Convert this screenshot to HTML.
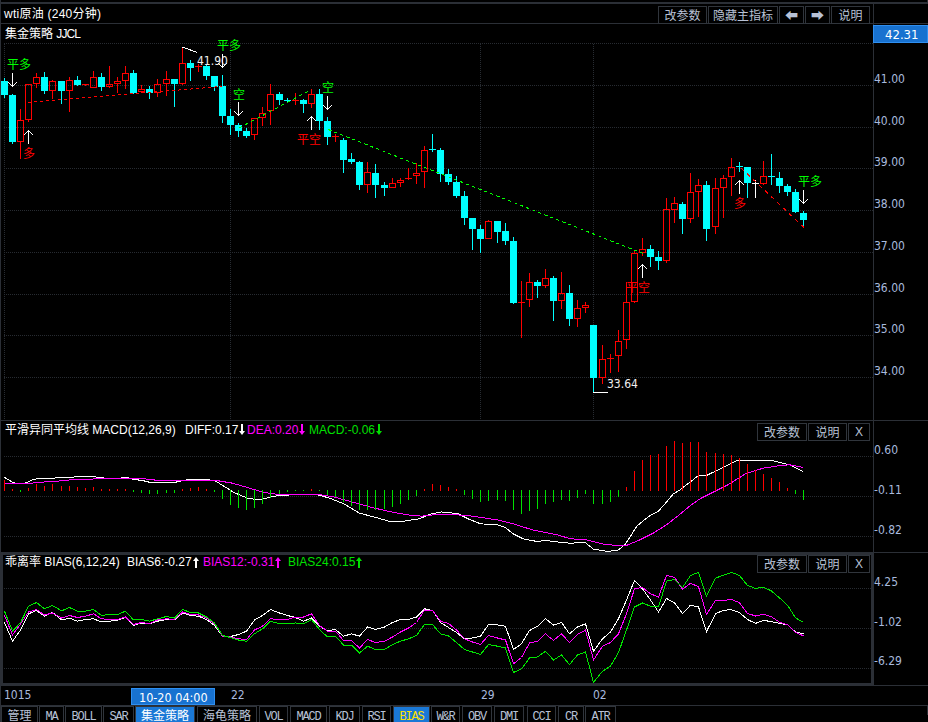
<!DOCTYPE html>
<html><head><meta charset="utf-8"><style>
html,body{margin:0;padding:0;background:#000;}
#w{position:relative;width:928px;height:722px;overflow:hidden;background:#000;}
svg{position:absolute;left:0;top:0;}
.t{position:absolute;white-space:pre;line-height:16px;}
.b{position:absolute;border:1px solid #30353c;color:#b8c2d6;text-align:center;white-space:pre;background:#000;}
.arr{font-size:13px;}
.ar{position:relative;display:inline-block;vertical-align:top;margin-top:2px;margin-left:1px;}
.tm{letter-spacing:-1.2px;padding-top:2px;box-sizing:border-box;}
.tab{position:absolute;top:706px;height:16px;border:1px solid #30353c;border-bottom:none;color:#b8c2d6;font-size:12px;line-height:16px;text-align:center;box-sizing:content-box;}
</style></head><body><div id="w">
<svg width="928" height="722" viewBox="0 0 928 722" shape-rendering="crispEdges">
<line x1="4" y1="43.5" x2="873" y2="43.5" stroke="#272b31" stroke-width="1" stroke-dasharray="1 1"/>
<line x1="4" y1="85.5" x2="873" y2="85.5" stroke="#272b31" stroke-width="1" stroke-dasharray="1 1"/>
<line x1="4" y1="127.5" x2="873" y2="127.5" stroke="#272b31" stroke-width="1" stroke-dasharray="1 1"/>
<line x1="4" y1="168.5" x2="873" y2="168.5" stroke="#272b31" stroke-width="1" stroke-dasharray="1 1"/>
<line x1="4" y1="210.5" x2="873" y2="210.5" stroke="#272b31" stroke-width="1" stroke-dasharray="1 1"/>
<line x1="4" y1="252.5" x2="873" y2="252.5" stroke="#272b31" stroke-width="1" stroke-dasharray="1 1"/>
<line x1="4" y1="294.5" x2="873" y2="294.5" stroke="#272b31" stroke-width="1" stroke-dasharray="1 1"/>
<line x1="4" y1="335.5" x2="873" y2="335.5" stroke="#272b31" stroke-width="1" stroke-dasharray="1 1"/>
<line x1="4" y1="377.5" x2="873" y2="377.5" stroke="#272b31" stroke-width="1" stroke-dasharray="1 1"/>
<line x1="4.5" y1="44" x2="4.5" y2="420" stroke="#272b31" stroke-width="1" stroke-dasharray="1 1"/>
<line x1="230.5" y1="44" x2="230.5" y2="420" stroke="#272b31" stroke-width="1" stroke-dasharray="1 1"/>
<line x1="480.5" y1="44" x2="480.5" y2="420" stroke="#272b31" stroke-width="1" stroke-dasharray="1 1"/>
<line x1="593.5" y1="44" x2="593.5" y2="420" stroke="#272b31" stroke-width="1" stroke-dasharray="1 1"/>
<line x1="4" y1="456.5" x2="873" y2="456.5" stroke="#272b31" stroke-width="1" stroke-dasharray="1 1"/>
<line x1="4" y1="496.5" x2="873" y2="496.5" stroke="#272b31" stroke-width="1" stroke-dasharray="1 1"/>
<line x1="4" y1="536.5" x2="873" y2="536.5" stroke="#272b31" stroke-width="1" stroke-dasharray="1 1"/>
<line x1="4" y1="588.5" x2="871" y2="588.5" stroke="#272b31" stroke-width="1" stroke-dasharray="1 1"/>
<line x1="4" y1="628.5" x2="871" y2="628.5" stroke="#272b31" stroke-width="1" stroke-dasharray="1 1"/>
<line x1="4" y1="668.5" x2="871" y2="668.5" stroke="#272b31" stroke-width="1" stroke-dasharray="1 1"/>
<line x1="4.5" y1="78" x2="4.5" y2="98" stroke="#00ffff" stroke-width="1" />
<rect x="1" y="81" width="7" height="14" fill="#00ffff" />
<line x1="12.5" y1="94" x2="12.5" y2="144" stroke="#00ffff" stroke-width="1" />
<rect x="9" y="95" width="7" height="47" fill="#00ffff" />
<line x1="20.5" y1="109" x2="20.5" y2="120" stroke="#ff0000" stroke-width="1" />
<line x1="20.5" y1="142" x2="20.5" y2="159" stroke="#ff0000" stroke-width="1" />
<rect x="17.5" y="120.5" width="6" height="21" fill="none" stroke="#ff0000" stroke-width="1"/>
<line x1="28.5" y1="120" x2="28.5" y2="122" stroke="#ff0000" stroke-width="1" />
<rect x="25.5" y="84.5" width="6" height="35" fill="none" stroke="#ff0000" stroke-width="1"/>
<line x1="36.5" y1="73" x2="36.5" y2="77" stroke="#ff0000" stroke-width="1" />
<line x1="36.5" y1="84" x2="36.5" y2="88" stroke="#ff0000" stroke-width="1" />
<rect x="33.5" y="77.5" width="6" height="6" fill="none" stroke="#ff0000" stroke-width="1"/>
<line x1="44.5" y1="72" x2="44.5" y2="94" stroke="#00ffff" stroke-width="1" />
<rect x="41" y="77" width="7" height="14" fill="#00ffff" />
<line x1="52.5" y1="80" x2="52.5" y2="81" stroke="#ff0000" stroke-width="1" />
<line x1="52.5" y1="91" x2="52.5" y2="99" stroke="#ff0000" stroke-width="1" />
<rect x="49.5" y="81.5" width="6" height="9" fill="none" stroke="#ff0000" stroke-width="1"/>
<line x1="61.5" y1="81" x2="61.5" y2="104" stroke="#00ffff" stroke-width="1" />
<rect x="58" y="81" width="7" height="10" fill="#00ffff" />
<line x1="69.5" y1="77" x2="69.5" y2="80" stroke="#ff0000" stroke-width="1" />
<line x1="69.5" y1="91" x2="69.5" y2="112" stroke="#ff0000" stroke-width="1" />
<rect x="66.5" y="80.5" width="6" height="10" fill="none" stroke="#ff0000" stroke-width="1"/>
<line x1="77.5" y1="76" x2="77.5" y2="86" stroke="#00ffff" stroke-width="1" />
<rect x="74" y="80" width="7" height="5" fill="#00ffff" />
<line x1="85.5" y1="84" x2="85.5" y2="86" stroke="#ff0000" stroke-width="1" />
<rect x="82" y="84" width="7" height="1" fill="#ff0000" />
<line x1="93.5" y1="71" x2="93.5" y2="77" stroke="#ff0000" stroke-width="1" />
<rect x="90.5" y="77.5" width="6" height="10" fill="none" stroke="#ff0000" stroke-width="1"/>
<line x1="101.5" y1="73" x2="101.5" y2="91" stroke="#00ffff" stroke-width="1" />
<rect x="98" y="77" width="7" height="10" fill="#00ffff" />
<line x1="109.5" y1="66" x2="109.5" y2="84" stroke="#ff0000" stroke-width="1" />
<line x1="109.5" y1="87" x2="109.5" y2="88" stroke="#ff0000" stroke-width="1" />
<rect x="106.5" y="84.5" width="6" height="2" fill="none" stroke="#ff0000" stroke-width="1"/>
<line x1="117.5" y1="77" x2="117.5" y2="81" stroke="#ff0000" stroke-width="1" />
<line x1="117.5" y1="84" x2="117.5" y2="93" stroke="#ff0000" stroke-width="1" />
<rect x="114.5" y="81.5" width="6" height="2" fill="none" stroke="#ff0000" stroke-width="1"/>
<line x1="125.5" y1="66" x2="125.5" y2="73" stroke="#ff0000" stroke-width="1" />
<line x1="125.5" y1="81" x2="125.5" y2="89" stroke="#ff0000" stroke-width="1" />
<rect x="122.5" y="73.5" width="6" height="7" fill="none" stroke="#ff0000" stroke-width="1"/>
<line x1="133.5" y1="70" x2="133.5" y2="94" stroke="#00ffff" stroke-width="1" />
<rect x="130" y="73" width="7" height="20" fill="#00ffff" />
<line x1="141.5" y1="85" x2="141.5" y2="89" stroke="#ff0000" stroke-width="1" />
<line x1="141.5" y1="92" x2="141.5" y2="93" stroke="#ff0000" stroke-width="1" />
<rect x="138.5" y="89.5" width="6" height="2" fill="none" stroke="#ff0000" stroke-width="1"/>
<line x1="149.5" y1="86" x2="149.5" y2="99" stroke="#00ffff" stroke-width="1" />
<rect x="146" y="89" width="7" height="4" fill="#00ffff" />
<line x1="157.5" y1="79" x2="157.5" y2="84" stroke="#ff0000" stroke-width="1" />
<line x1="157.5" y1="93" x2="157.5" y2="97" stroke="#ff0000" stroke-width="1" />
<rect x="154.5" y="84.5" width="6" height="8" fill="none" stroke="#ff0000" stroke-width="1"/>
<line x1="166.5" y1="71" x2="166.5" y2="79" stroke="#ff0000" stroke-width="1" />
<line x1="166.5" y1="84" x2="166.5" y2="96" stroke="#ff0000" stroke-width="1" />
<rect x="163.5" y="79.5" width="6" height="4" fill="none" stroke="#ff0000" stroke-width="1"/>
<line x1="174.5" y1="79" x2="174.5" y2="107" stroke="#00ffff" stroke-width="1" />
<rect x="171" y="79" width="7" height="5" fill="#00ffff" />
<line x1="182.5" y1="47" x2="182.5" y2="63" stroke="#ff0000" stroke-width="1" />
<line x1="182.5" y1="84" x2="182.5" y2="85" stroke="#ff0000" stroke-width="1" />
<rect x="179.5" y="63.5" width="6" height="20" fill="none" stroke="#ff0000" stroke-width="1"/>
<line x1="190.5" y1="60" x2="190.5" y2="81" stroke="#00ffff" stroke-width="1" />
<rect x="187" y="63" width="7" height="5" fill="#00ffff" />
<line x1="198.5" y1="64" x2="198.5" y2="72" stroke="#ff0000" stroke-width="1" />
<rect x="195" y="66" width="7" height="1" fill="#ff0000" />
<line x1="206.5" y1="65" x2="206.5" y2="80" stroke="#00ffff" stroke-width="1" />
<rect x="203" y="66" width="7" height="10" fill="#00ffff" />
<line x1="214.5" y1="76" x2="214.5" y2="91" stroke="#00ffff" stroke-width="1" />
<rect x="211" y="76" width="7" height="11" fill="#00ffff" />
<line x1="222.5" y1="75" x2="222.5" y2="123" stroke="#00ffff" stroke-width="1" />
<rect x="219" y="86" width="7" height="30" fill="#00ffff" />
<line x1="230.5" y1="109" x2="230.5" y2="135" stroke="#00ffff" stroke-width="1" />
<rect x="227" y="116" width="7" height="9" fill="#00ffff" />
<line x1="238.5" y1="123" x2="238.5" y2="137" stroke="#00ffff" stroke-width="1" />
<rect x="235" y="125" width="7" height="6" fill="#00ffff" />
<line x1="246.5" y1="128" x2="246.5" y2="138" stroke="#00ffff" stroke-width="1" />
<rect x="243" y="131" width="7" height="5" fill="#00ffff" />
<line x1="254.5" y1="135" x2="254.5" y2="140" stroke="#ff0000" stroke-width="1" />
<rect x="251.5" y="118.5" width="6" height="16" fill="none" stroke="#ff0000" stroke-width="1"/>
<line x1="262.5" y1="107" x2="262.5" y2="113" stroke="#ff0000" stroke-width="1" />
<line x1="262.5" y1="118" x2="262.5" y2="126" stroke="#ff0000" stroke-width="1" />
<rect x="259.5" y="113.5" width="6" height="4" fill="none" stroke="#ff0000" stroke-width="1"/>
<line x1="270.5" y1="84" x2="270.5" y2="94" stroke="#ff0000" stroke-width="1" />
<line x1="270.5" y1="111" x2="270.5" y2="125" stroke="#ff0000" stroke-width="1" />
<rect x="267.5" y="94.5" width="6" height="16" fill="none" stroke="#ff0000" stroke-width="1"/>
<line x1="279.5" y1="92" x2="279.5" y2="105" stroke="#00ffff" stroke-width="1" />
<rect x="276" y="94" width="7" height="6" fill="#00ffff" />
<line x1="287.5" y1="98" x2="287.5" y2="102" stroke="#00ffff" stroke-width="1" />
<rect x="284" y="100" width="7" height="1" fill="#00ffff" />
<line x1="295.5" y1="93" x2="295.5" y2="105" stroke="#ff0000" stroke-width="1" />
<rect x="292" y="100" width="7" height="1" fill="#ff0000" />
<line x1="303.5" y1="99" x2="303.5" y2="113" stroke="#00ffff" stroke-width="1" />
<rect x="300" y="100" width="7" height="4" fill="#00ffff" />
<line x1="311.5" y1="89" x2="311.5" y2="94" stroke="#ff0000" stroke-width="1" />
<line x1="311.5" y1="104" x2="311.5" y2="108" stroke="#ff0000" stroke-width="1" />
<rect x="308.5" y="94.5" width="6" height="9" fill="none" stroke="#ff0000" stroke-width="1"/>
<line x1="319.5" y1="89" x2="319.5" y2="130" stroke="#00ffff" stroke-width="1" />
<rect x="316" y="94" width="7" height="27" fill="#00ffff" />
<line x1="327.5" y1="117" x2="327.5" y2="145" stroke="#00ffff" stroke-width="1" />
<rect x="324" y="121" width="7" height="16" fill="#00ffff" />
<line x1="335.5" y1="134" x2="335.5" y2="142" stroke="#ff0000" stroke-width="1" />
<rect x="332" y="136" width="7" height="1" fill="#ff0000" />
<line x1="343.5" y1="138" x2="343.5" y2="173" stroke="#00ffff" stroke-width="1" />
<rect x="340" y="140" width="7" height="20" fill="#00ffff" />
<line x1="351.5" y1="153" x2="351.5" y2="164" stroke="#00ffff" stroke-width="1" />
<rect x="348" y="159" width="7" height="3" fill="#00ffff" />
<line x1="359.5" y1="161" x2="359.5" y2="190" stroke="#00ffff" stroke-width="1" />
<rect x="356" y="162" width="7" height="23" fill="#00ffff" />
<line x1="367.5" y1="162" x2="367.5" y2="172" stroke="#ff0000" stroke-width="1" />
<line x1="367.5" y1="185" x2="367.5" y2="193" stroke="#ff0000" stroke-width="1" />
<rect x="364.5" y="172.5" width="6" height="12" fill="none" stroke="#ff0000" stroke-width="1"/>
<line x1="375.5" y1="164" x2="375.5" y2="198" stroke="#00ffff" stroke-width="1" />
<rect x="372" y="173" width="7" height="12" fill="#00ffff" />
<line x1="384.5" y1="182" x2="384.5" y2="196" stroke="#00ffff" stroke-width="1" />
<rect x="381" y="185" width="7" height="3" fill="#00ffff" />
<line x1="392.5" y1="178" x2="392.5" y2="183" stroke="#ff0000" stroke-width="1" />
<rect x="389.5" y="183.5" width="6" height="4" fill="none" stroke="#ff0000" stroke-width="1"/>
<line x1="400.5" y1="178" x2="400.5" y2="180" stroke="#ff0000" stroke-width="1" />
<line x1="400.5" y1="183" x2="400.5" y2="187" stroke="#ff0000" stroke-width="1" />
<rect x="397.5" y="180.5" width="6" height="2" fill="none" stroke="#ff0000" stroke-width="1"/>
<line x1="408.5" y1="168" x2="408.5" y2="180" stroke="#ff0000" stroke-width="1" />
<rect x="405" y="178" width="7" height="1" fill="#ff0000" />
<line x1="416.5" y1="163" x2="416.5" y2="173" stroke="#ff0000" stroke-width="1" />
<line x1="416.5" y1="176" x2="416.5" y2="184" stroke="#ff0000" stroke-width="1" />
<rect x="413.5" y="173.5" width="6" height="2" fill="none" stroke="#ff0000" stroke-width="1"/>
<line x1="424.5" y1="146" x2="424.5" y2="150" stroke="#ff0000" stroke-width="1" />
<line x1="424.5" y1="172" x2="424.5" y2="188" stroke="#ff0000" stroke-width="1" />
<rect x="421.5" y="150.5" width="6" height="21" fill="none" stroke="#ff0000" stroke-width="1"/>
<line x1="432.5" y1="134" x2="432.5" y2="152" stroke="#00ffff" stroke-width="1" />
<rect x="429" y="149" width="7" height="1" fill="#00ffff" />
<line x1="440.5" y1="148" x2="440.5" y2="182" stroke="#00ffff" stroke-width="1" />
<rect x="437" y="150" width="7" height="24" fill="#00ffff" />
<line x1="448.5" y1="169" x2="448.5" y2="185" stroke="#00ffff" stroke-width="1" />
<rect x="445" y="174" width="7" height="8" fill="#00ffff" />
<line x1="456.5" y1="176" x2="456.5" y2="198" stroke="#00ffff" stroke-width="1" />
<rect x="453" y="182" width="7" height="14" fill="#00ffff" />
<line x1="464.5" y1="191" x2="464.5" y2="225" stroke="#00ffff" stroke-width="1" />
<rect x="461" y="196" width="7" height="22" fill="#00ffff" />
<line x1="472.5" y1="218" x2="472.5" y2="250" stroke="#00ffff" stroke-width="1" />
<rect x="469" y="218" width="7" height="11" fill="#00ffff" />
<line x1="480.5" y1="225" x2="480.5" y2="253" stroke="#00ffff" stroke-width="1" />
<rect x="477" y="229" width="7" height="10" fill="#00ffff" />
<line x1="488.5" y1="220" x2="488.5" y2="221" stroke="#ff0000" stroke-width="1" />
<rect x="485.5" y="221.5" width="6" height="17" fill="none" stroke="#ff0000" stroke-width="1"/>
<line x1="497.5" y1="221" x2="497.5" y2="243" stroke="#00ffff" stroke-width="1" />
<rect x="494" y="221" width="7" height="11" fill="#00ffff" />
<line x1="505.5" y1="223" x2="505.5" y2="245" stroke="#00ffff" stroke-width="1" />
<rect x="502" y="231" width="7" height="10" fill="#00ffff" />
<line x1="513.5" y1="237" x2="513.5" y2="304" stroke="#00ffff" stroke-width="1" />
<rect x="510" y="241" width="7" height="62" fill="#00ffff" />
<line x1="521.5" y1="281" x2="521.5" y2="338" stroke="#ff0000" stroke-width="1" />
<rect x="518" y="302" width="7" height="1" fill="#ff0000" />
<line x1="529.5" y1="273" x2="529.5" y2="282" stroke="#ff0000" stroke-width="1" />
<line x1="529.5" y1="300" x2="529.5" y2="307" stroke="#ff0000" stroke-width="1" />
<rect x="526.5" y="282.5" width="6" height="17" fill="none" stroke="#ff0000" stroke-width="1"/>
<line x1="537.5" y1="280" x2="537.5" y2="298" stroke="#00ffff" stroke-width="1" />
<rect x="534" y="282" width="7" height="4" fill="#00ffff" />
<line x1="545.5" y1="269" x2="545.5" y2="278" stroke="#ff0000" stroke-width="1" />
<line x1="545.5" y1="286" x2="545.5" y2="288" stroke="#ff0000" stroke-width="1" />
<rect x="542.5" y="278.5" width="6" height="7" fill="none" stroke="#ff0000" stroke-width="1"/>
<line x1="553.5" y1="276" x2="553.5" y2="321" stroke="#00ffff" stroke-width="1" />
<rect x="550" y="278" width="7" height="23" fill="#00ffff" />
<line x1="561.5" y1="272" x2="561.5" y2="293" stroke="#ff0000" stroke-width="1" />
<line x1="561.5" y1="301" x2="561.5" y2="309" stroke="#ff0000" stroke-width="1" />
<rect x="558.5" y="293.5" width="6" height="7" fill="none" stroke="#ff0000" stroke-width="1"/>
<line x1="569.5" y1="285" x2="569.5" y2="326" stroke="#00ffff" stroke-width="1" />
<rect x="566" y="293" width="7" height="26" fill="#00ffff" />
<line x1="577.5" y1="300" x2="577.5" y2="308" stroke="#ff0000" stroke-width="1" />
<line x1="577.5" y1="319" x2="577.5" y2="327" stroke="#ff0000" stroke-width="1" />
<rect x="574.5" y="308.5" width="6" height="10" fill="none" stroke="#ff0000" stroke-width="1"/>
<line x1="585.5" y1="302" x2="585.5" y2="305" stroke="#ff0000" stroke-width="1" />
<line x1="585.5" y1="308" x2="585.5" y2="313" stroke="#ff0000" stroke-width="1" />
<rect x="582.5" y="305.5" width="6" height="2" fill="none" stroke="#ff0000" stroke-width="1"/>
<line x1="593.5" y1="325" x2="593.5" y2="392" stroke="#00ffff" stroke-width="1" />
<rect x="590" y="325" width="7" height="53" fill="#00ffff" />
<line x1="602.5" y1="345" x2="602.5" y2="359" stroke="#ff0000" stroke-width="1" />
<line x1="602.5" y1="378" x2="602.5" y2="384" stroke="#ff0000" stroke-width="1" />
<rect x="599.5" y="359.5" width="6" height="18" fill="none" stroke="#ff0000" stroke-width="1"/>
<line x1="610.5" y1="354" x2="610.5" y2="373" stroke="#ff0000" stroke-width="1" />
<rect x="607" y="358" width="7" height="1" fill="#ff0000" />
<line x1="618.5" y1="330" x2="618.5" y2="341" stroke="#ff0000" stroke-width="1" />
<line x1="618.5" y1="356" x2="618.5" y2="372" stroke="#ff0000" stroke-width="1" />
<rect x="615.5" y="341.5" width="6" height="14" fill="none" stroke="#ff0000" stroke-width="1"/>
<line x1="626.5" y1="282" x2="626.5" y2="302" stroke="#ff0000" stroke-width="1" />
<line x1="626.5" y1="340" x2="626.5" y2="349" stroke="#ff0000" stroke-width="1" />
<rect x="623.5" y="302.5" width="6" height="37" fill="none" stroke="#ff0000" stroke-width="1"/>
<line x1="634.5" y1="251" x2="634.5" y2="253" stroke="#ff0000" stroke-width="1" />
<line x1="634.5" y1="302" x2="634.5" y2="303" stroke="#ff0000" stroke-width="1" />
<rect x="631.5" y="253.5" width="6" height="48" fill="none" stroke="#ff0000" stroke-width="1"/>
<line x1="642.5" y1="238" x2="642.5" y2="249" stroke="#ff0000" stroke-width="1" />
<line x1="642.5" y1="253" x2="642.5" y2="256" stroke="#ff0000" stroke-width="1" />
<rect x="639.5" y="249.5" width="6" height="3" fill="none" stroke="#ff0000" stroke-width="1"/>
<line x1="650.5" y1="245" x2="650.5" y2="267" stroke="#00ffff" stroke-width="1" />
<rect x="647" y="249" width="7" height="8" fill="#00ffff" />
<line x1="658.5" y1="251" x2="658.5" y2="270" stroke="#00ffff" stroke-width="1" />
<rect x="655" y="257" width="7" height="4" fill="#00ffff" />
<line x1="666.5" y1="198" x2="666.5" y2="209" stroke="#ff0000" stroke-width="1" />
<line x1="666.5" y1="261" x2="666.5" y2="263" stroke="#ff0000" stroke-width="1" />
<rect x="663.5" y="209.5" width="6" height="51" fill="none" stroke="#ff0000" stroke-width="1"/>
<line x1="674.5" y1="197" x2="674.5" y2="203" stroke="#ff0000" stroke-width="1" />
<line x1="674.5" y1="210" x2="674.5" y2="223" stroke="#ff0000" stroke-width="1" />
<rect x="671.5" y="203.5" width="6" height="6" fill="none" stroke="#ff0000" stroke-width="1"/>
<line x1="682.5" y1="202" x2="682.5" y2="234" stroke="#00ffff" stroke-width="1" />
<rect x="679" y="204" width="7" height="15" fill="#00ffff" />
<line x1="690.5" y1="173" x2="690.5" y2="192" stroke="#ff0000" stroke-width="1" />
<line x1="690.5" y1="219" x2="690.5" y2="223" stroke="#ff0000" stroke-width="1" />
<rect x="687.5" y="192.5" width="6" height="26" fill="none" stroke="#ff0000" stroke-width="1"/>
<line x1="698.5" y1="179" x2="698.5" y2="185" stroke="#ff0000" stroke-width="1" />
<line x1="698.5" y1="192" x2="698.5" y2="217" stroke="#ff0000" stroke-width="1" />
<rect x="695.5" y="185.5" width="6" height="6" fill="none" stroke="#ff0000" stroke-width="1"/>
<line x1="706.5" y1="181" x2="706.5" y2="241" stroke="#00ffff" stroke-width="1" />
<rect x="703" y="185" width="7" height="44" fill="#00ffff" />
<line x1="715.5" y1="178" x2="715.5" y2="188" stroke="#ff0000" stroke-width="1" />
<line x1="715.5" y1="227" x2="715.5" y2="234" stroke="#ff0000" stroke-width="1" />
<rect x="712.5" y="188.5" width="6" height="38" fill="none" stroke="#ff0000" stroke-width="1"/>
<line x1="723.5" y1="175" x2="723.5" y2="178" stroke="#ff0000" stroke-width="1" />
<line x1="723.5" y1="188" x2="723.5" y2="218" stroke="#ff0000" stroke-width="1" />
<rect x="720.5" y="178.5" width="6" height="9" fill="none" stroke="#ff0000" stroke-width="1"/>
<line x1="731.5" y1="158" x2="731.5" y2="167" stroke="#ff0000" stroke-width="1" />
<line x1="731.5" y1="177" x2="731.5" y2="196" stroke="#ff0000" stroke-width="1" />
<rect x="728.5" y="167.5" width="6" height="9" fill="none" stroke="#ff0000" stroke-width="1"/>
<line x1="739.5" y1="162" x2="739.5" y2="172" stroke="#00ffff" stroke-width="1" />
<rect x="736" y="166" width="7" height="1" fill="#00ffff" />
<line x1="747.5" y1="167" x2="747.5" y2="198" stroke="#00ffff" stroke-width="1" />
<rect x="744" y="167" width="7" height="16" fill="#00ffff" />
<line x1="755.5" y1="180" x2="755.5" y2="198" stroke="#ffffff" stroke-width="1" />
<rect x="752" y="183" width="7" height="1" fill="#ffffff" />
<line x1="763.5" y1="161" x2="763.5" y2="176" stroke="#ff0000" stroke-width="1" />
<line x1="763.5" y1="184" x2="763.5" y2="185" stroke="#ff0000" stroke-width="1" />
<rect x="760.5" y="176.5" width="6" height="7" fill="none" stroke="#ff0000" stroke-width="1"/>
<line x1="771.5" y1="154" x2="771.5" y2="185" stroke="#00ffff" stroke-width="1" />
<rect x="768" y="176" width="7" height="1" fill="#00ffff" />
<line x1="779.5" y1="172" x2="779.5" y2="193" stroke="#00ffff" stroke-width="1" />
<rect x="776" y="178" width="7" height="8" fill="#00ffff" />
<line x1="787.5" y1="184" x2="787.5" y2="196" stroke="#00ffff" stroke-width="1" />
<rect x="784" y="186" width="7" height="6" fill="#00ffff" />
<line x1="795.5" y1="189" x2="795.5" y2="213" stroke="#00ffff" stroke-width="1" />
<rect x="792" y="192" width="7" height="20" fill="#00ffff" />
<line x1="803.5" y1="211" x2="803.5" y2="227" stroke="#00ffff" stroke-width="1" />
<rect x="800" y="213" width="7" height="7" fill="#00ffff" />
<polyline points="4.5,477.4 13.0,482.6 19.4,484.0 27.0,482.6 32.3,480.0 36.2,479.0 47.8,478.3 64.7,477.6 89.2,476.0 98.3,477.4 106.0,478.3 121.0,478.3 121.5,477.4 128.0,477.4 128.5,478.3 132.0,478.3 132.5,479.3 138.0,479.3 138.5,480.2 144.0,480.2 144.5,481.3 148.0,481.3 148.5,482.5 176.0,482.5 176.5,481.5 180.0,481.5 180.5,480.5 186.0,480.5 186.5,479.3 209.0,479.3 209.5,480.2 213.5,480.2 217.4,482.2 230.0,490.0 234.0,492.5 249.0,498.8 261.5,499.5 274.0,496.2 289.0,495.0 306.5,494.5 316.5,494.5 329.0,498.0 344.0,503.8 359.0,513.0 374.0,517.0 389.0,521.2 404.0,521.2 419.0,518.8 431.5,513.8 441.5,512.0 448.0,512.5 458.0,513.8 468.0,518.8 480.5,523.8 498.0,525.0 505.5,527.5 513.0,533.8 523.0,538.8 535.5,541.2 548.0,540.8 558.0,542.0 570.0,543.2 585.0,542.4 593.3,549.0 608.2,551.5 618.2,549.9 624.8,544.9 629.8,537.4 636.5,526.6 643.1,520.8 649.8,515.8 658.1,511.6 664.7,504.1 673.0,494.2 679.7,490.0 690.0,482.2 698.1,475.7 706.8,475.3 724.2,467.0 737.3,460.5 772.1,460.5 789.5,464.8 802.6,471.4" fill="none" stroke="#ffffff" stroke-width="1"/>
<polyline points="4.5,483.2 31.7,483.2 40.0,482.2 57.0,481.3 64.7,480.2 89.2,479.2 106.0,478.3 145.5,478.3 146.0,479.3 154.0,479.3 154.5,480.4 209.0,480.4 219.0,480.5 219.5,481.5 225.0,481.5 225.5,482.6 230.0,482.6 239.0,485.0 249.0,488.0 264.0,492.5 279.0,494.5 319.0,494.5 334.0,497.0 354.0,502.5 374.0,508.0 394.0,512.5 409.0,515.0 421.5,516.2 436.5,514.5 448.0,514.0 473.0,516.2 498.0,520.0 513.0,523.8 533.0,530.0 558.0,535.0 570.0,538.7 586.6,539.9 603.2,544.0 614.9,545.4 626.5,545.4 639.8,539.9 653.1,533.2 666.4,524.9 678.0,515.8 690.0,505.8 700.3,498.6 715.5,491.0 728.6,484.4 746.0,473.5 763.4,468.1 780.8,465.5 789.5,464.8 802.6,467.4" fill="none" stroke="#ff00ff" stroke-width="1"/>
<rect x="4" y="480" width="1" height="11" fill="#ff0000" />
<rect x="12" y="489" width="1" height="2" fill="#ff0000" />
<rect x="20" y="490" width="1" height="2" fill="#00e000" />
<rect x="28" y="488" width="1" height="3" fill="#ff0000" />
<rect x="36" y="484" width="1" height="7" fill="#ff0000" />
<rect x="44" y="486" width="1" height="5" fill="#ff0000" />
<rect x="52" y="484" width="1" height="7" fill="#ff0000" />
<rect x="61" y="486" width="1" height="5" fill="#ff0000" />
<rect x="69" y="486" width="1" height="5" fill="#ff0000" />
<rect x="77" y="487" width="1" height="4" fill="#ff0000" />
<rect x="85" y="488" width="1" height="3" fill="#ff0000" />
<rect x="93" y="487" width="1" height="4" fill="#ff0000" />
<rect x="101" y="489" width="1" height="2" fill="#ff0000" />
<rect x="109" y="489" width="1" height="2" fill="#ff0000" />
<rect x="117" y="489" width="1" height="2" fill="#ff0000" />
<rect x="125" y="489" width="1" height="2" fill="#ff0000" />
<rect x="133" y="490" width="1" height="2" fill="#00e000" />
<rect x="141" y="490" width="1" height="3" fill="#00e000" />
<rect x="149" y="490" width="1" height="4" fill="#00e000" />
<rect x="157" y="490" width="1" height="4" fill="#00e000" />
<rect x="166" y="490" width="1" height="3" fill="#00e000" />
<rect x="174" y="490" width="1" height="3" fill="#00e000" />
<rect x="182" y="489" width="1" height="2" fill="#ff0000" />
<rect x="190" y="488" width="1" height="3" fill="#ff0000" />
<rect x="198" y="487" width="1" height="4" fill="#ff0000" />
<rect x="206" y="489" width="1" height="2" fill="#ff0000" />
<rect x="214" y="490" width="1" height="2" fill="#00e000" />
<rect x="222" y="490" width="1" height="9" fill="#00e000" />
<rect x="230" y="490" width="1" height="15" fill="#00e000" />
<rect x="238" y="490" width="1" height="18" fill="#00e000" />
<rect x="246" y="490" width="1" height="20" fill="#00e000" />
<rect x="254" y="490" width="1" height="18" fill="#00e000" />
<rect x="262" y="490" width="1" height="14" fill="#00e000" />
<rect x="270" y="490" width="1" height="8" fill="#00e000" />
<rect x="279" y="490" width="1" height="4" fill="#00e000" />
<rect x="287" y="490" width="1" height="2" fill="#00e000" />
<rect x="295" y="490" width="1" height="1" fill="#00e000" />
<rect x="303" y="490" width="1" height="1" fill="#00e000" />
<rect x="311" y="489" width="1" height="2" fill="#ff0000" />
<rect x="319" y="490" width="1" height="1" fill="#00e000" />
<rect x="327" y="490" width="1" height="5" fill="#00e000" />
<rect x="335" y="490" width="1" height="7" fill="#00e000" />
<rect x="343" y="490" width="1" height="12" fill="#00e000" />
<rect x="351" y="490" width="1" height="16" fill="#00e000" />
<rect x="359" y="490" width="1" height="20" fill="#00e000" />
<rect x="367" y="490" width="1" height="20" fill="#00e000" />
<rect x="375" y="490" width="1" height="20" fill="#00e000" />
<rect x="384" y="490" width="1" height="19" fill="#00e000" />
<rect x="392" y="490" width="1" height="17" fill="#00e000" />
<rect x="400" y="490" width="1" height="14" fill="#00e000" />
<rect x="408" y="490" width="1" height="10" fill="#00e000" />
<rect x="416" y="490" width="1" height="6" fill="#00e000" />
<rect x="424" y="489" width="1" height="2" fill="#ff0000" />
<rect x="432" y="484" width="1" height="7" fill="#ff0000" />
<rect x="440" y="485" width="1" height="6" fill="#ff0000" />
<rect x="448" y="487" width="1" height="4" fill="#ff0000" />
<rect x="456" y="489" width="1" height="2" fill="#ff0000" />
<rect x="464" y="490" width="1" height="5" fill="#00e000" />
<rect x="472" y="490" width="1" height="9" fill="#00e000" />
<rect x="480" y="490" width="1" height="12" fill="#00e000" />
<rect x="488" y="490" width="1" height="11" fill="#00e000" />
<rect x="497" y="490" width="1" height="10" fill="#00e000" />
<rect x="505" y="490" width="1" height="11" fill="#00e000" />
<rect x="513" y="490" width="1" height="20" fill="#00e000" />
<rect x="521" y="490" width="1" height="24" fill="#00e000" />
<rect x="529" y="490" width="1" height="21" fill="#00e000" />
<rect x="537" y="490" width="1" height="19" fill="#00e000" />
<rect x="545" y="490" width="1" height="14" fill="#00e000" />
<rect x="553" y="490" width="1" height="12" fill="#00e000" />
<rect x="561" y="490" width="1" height="10" fill="#00e000" />
<rect x="569" y="490" width="1" height="11" fill="#00e000" />
<rect x="577" y="490" width="1" height="8" fill="#00e000" />
<rect x="585" y="490" width="1" height="4" fill="#00e000" />
<rect x="593" y="490" width="1" height="14" fill="#00e000" />
<rect x="602" y="490" width="1" height="14" fill="#00e000" />
<rect x="610" y="490" width="1" height="12" fill="#00e000" />
<rect x="618" y="490" width="1" height="7" fill="#00e000" />
<rect x="626" y="487" width="1" height="4" fill="#ff0000" />
<rect x="634" y="471" width="1" height="20" fill="#ff0000" />
<rect x="642" y="460" width="1" height="31" fill="#ff0000" />
<rect x="650" y="455" width="1" height="36" fill="#ff0000" />
<rect x="658" y="454" width="1" height="37" fill="#ff0000" />
<rect x="666" y="446" width="1" height="45" fill="#ff0000" />
<rect x="674" y="441" width="1" height="50" fill="#ff0000" />
<rect x="682" y="443" width="1" height="48" fill="#ff0000" />
<rect x="690" y="442" width="1" height="49" fill="#ff0000" />
<rect x="698" y="442" width="1" height="49" fill="#ff0000" />
<rect x="706" y="452" width="1" height="39" fill="#ff0000" />
<rect x="715" y="453" width="1" height="38" fill="#ff0000" />
<rect x="723" y="454" width="1" height="37" fill="#ff0000" />
<rect x="731" y="455" width="1" height="36" fill="#ff0000" />
<rect x="739" y="458" width="1" height="33" fill="#ff0000" />
<rect x="747" y="464" width="1" height="27" fill="#ff0000" />
<rect x="755" y="470" width="1" height="21" fill="#ff0000" />
<rect x="763" y="474" width="1" height="17" fill="#ff0000" />
<rect x="771" y="478" width="1" height="13" fill="#ff0000" />
<rect x="779" y="482" width="1" height="9" fill="#ff0000" />
<rect x="787" y="488" width="1" height="3" fill="#ff0000" />
<rect x="795" y="490" width="1" height="4" fill="#00e000" />
<rect x="803" y="490" width="1" height="10" fill="#00e000" />
<polyline points="4.5,622.5 12.5,641.2 20.5,630.0 28.5,613.8 36.5,610.5 44.5,616.2 52.5,612.3 61.5,620.0 69.5,618.2 77.5,621.2 85.5,619.5 93.5,618.8 101.5,622.0 109.5,621.2 117.5,620.0 125.5,617.5 133.5,625.5 141.5,623.0 149.5,623.8 157.5,621.2 166.5,619.5 174.5,620.0 182.5,613.0 190.5,615.5 198.5,616.2 206.5,619.5 214.5,625.5 222.5,636.2 230.5,636.5 238.5,634.5 246.5,631.2 254.5,620.0 262.5,615.5 270.5,609.5 279.5,613.0 287.5,615.5 295.5,617.5 303.5,621.2 311.5,618.0 319.5,626.2 327.5,630.8 335.5,629.5 343.5,636.2 351.5,633.8 359.5,636.2 367.5,627.0 375.5,629.5 384.5,627.0 392.5,622.5 400.5,619.5 408.5,619.5 416.5,617.0 424.5,608.8 432.5,610.5 440.5,622.5 448.5,627.5 456.5,632.5 464.5,638.8 472.5,638.0 480.5,636.2 488.5,624.5 497.5,625.0 505.5,626.2 513.5,649.5 521.5,643.8 529.5,630.5 537.5,626.2 545.5,618.8 553.5,625.0 561.5,622.5 569.5,633.8 577.5,627.0 585.5,623.8 593.5,651.2 602.5,638.8 610.5,632.0 618.5,618.8 626.5,600.0 634.5,580.5 642.5,588.8 650.5,600.0 658.5,612.0 666.5,598.5 674.5,602.8 682.5,613.4 690.5,605.2 698.5,606.9 706.5,631.6 715.5,613.8 723.5,610.3 731.5,609.7 739.5,612.6 747.5,619.5 755.5,623.4 763.5,620.3 771.5,621.7 779.5,623.4 787.5,624.7 795.5,632.1 803.5,633.8" fill="none" stroke="#ffffff" stroke-width="1"/>
<polyline points="4.5,615.4 12.5,635.0 20.5,624.1 28.5,612.0 36.5,609.5 44.5,615.0 52.5,613.0 61.5,618.0 69.5,615.5 77.5,617.5 85.5,616.2 93.5,613.8 101.5,618.8 109.5,619.5 117.5,619.5 125.5,617.0 133.5,624.5 141.5,622.5 149.5,623.8 157.5,620.0 166.5,618.8 174.5,619.5 182.5,612.0 190.5,614.5 198.5,615.0 206.5,618.0 214.5,623.8 222.5,636.2 230.5,637.0 238.5,638.8 246.5,639.5 254.5,630.0 262.5,626.2 270.5,618.8 279.5,619.5 287.5,619.5 295.5,617.0 303.5,617.0 311.5,613.8 319.5,625.5 327.5,631.2 335.5,631.2 343.5,640.5 351.5,640.5 359.5,648.0 367.5,639.5 375.5,642.5 384.5,641.2 392.5,637.0 400.5,632.0 408.5,628.0 416.5,622.5 424.5,610.0 432.5,610.5 440.5,621.2 448.5,623.5 456.5,630.0 464.5,638.8 472.5,642.0 480.5,644.5 488.5,635.5 497.5,638.0 505.5,640.0 513.5,663.8 521.5,657.5 529.5,643.0 537.5,641.2 545.5,633.8 553.5,640.5 561.5,633.8 569.5,642.5 577.5,634.5 585.5,630.0 593.5,660.0 602.5,646.2 610.5,642.5 618.5,633.8 626.5,613.8 634.5,588.8 642.5,587.5 650.5,593.8 658.5,597.0 666.5,575.5 674.5,577.3 682.5,589.3 690.5,583.3 698.5,586.7 706.5,614.3 715.5,600.5 723.5,600.5 731.5,599.3 739.5,602.8 747.5,613.4 755.5,616.0 763.5,614.3 771.5,616.9 779.5,622.1 787.5,624.7 795.5,632.4 803.5,635.9" fill="none" stroke="#ff00ff" stroke-width="1"/>
<polyline points="4.5,611.2 12.5,631.0 20.5,622.7 28.5,606.2 36.5,602.5 44.5,608.8 52.5,605.5 61.5,610.8 69.5,607.5 77.5,611.2 85.5,611.2 93.5,609.5 101.5,615.5 109.5,614.5 117.5,614.5 125.5,611.2 133.5,620.0 141.5,619.5 149.5,621.2 157.5,618.8 166.5,616.5 174.5,618.0 182.5,609.5 190.5,612.5 198.5,613.0 206.5,617.0 214.5,623.0 222.5,635.5 230.5,637.5 238.5,640.0 246.5,641.2 254.5,633.8 262.5,628.8 270.5,621.2 279.5,623.8 287.5,623.8 295.5,623.0 303.5,623.8 311.5,619.5 319.5,629.5 327.5,637.0 335.5,636.2 343.5,645.0 351.5,645.0 359.5,653.0 367.5,646.2 375.5,649.5 384.5,649.5 392.5,644.5 400.5,641.2 408.5,638.8 416.5,635.5 424.5,624.5 432.5,624.5 440.5,633.8 448.5,636.0 456.5,642.5 464.5,649.5 472.5,652.0 480.5,654.5 488.5,644.5 497.5,646.2 505.5,648.0 513.5,672.5 521.5,668.8 529.5,658.0 537.5,657.0 545.5,651.2 553.5,660.0 561.5,655.0 569.5,664.5 577.5,655.0 585.5,652.0 593.5,682.5 602.5,671.2 610.5,666.2 618.5,652.5 626.5,630.0 634.5,607.0 642.5,603.0 650.5,606.2 658.5,607.0 666.5,581.1 674.5,579.6 682.5,587.6 690.5,575.5 698.5,572.4 706.5,596.2 715.5,578.1 723.5,575.2 731.5,572.4 739.5,575.5 747.5,585.5 755.5,588.4 763.5,587.2 771.5,591.0 779.5,597.9 787.5,605.2 795.5,617.8 803.5,622.4" fill="none" stroke="#00e600" stroke-width="1"/>
<line x1="28" y1="102.5" x2="222" y2="86.4" stroke="#ff0000" stroke-width="1" stroke-dasharray="3.010 3.010"/>
<line x1="239" y1="128" x2="311" y2="89.8" stroke="#00ff00" stroke-width="1" stroke-dasharray="3.396 3.396"/>
<line x1="328.4" y1="129.6" x2="642.8" y2="253.4" stroke="#00ff00" stroke-width="1" stroke-dasharray="3.224 3.224"/>
<line x1="741" y1="168" x2="804" y2="227.6" stroke="#ff0000" stroke-width="1" stroke-dasharray="4.130 4.130"/>
<rect x="12" y="73" width="1" height="14" fill="#ffffff" />
<rect x="11" y="85" width="1" height="1" fill="#ffffff" />
<rect x="13" y="85" width="1" height="1" fill="#ffffff" />
<rect x="10" y="84" width="1" height="1" fill="#ffffff" />
<rect x="14" y="84" width="1" height="1" fill="#ffffff" />
<rect x="9" y="83" width="1" height="1" fill="#ffffff" />
<rect x="15" y="83" width="1" height="1" fill="#ffffff" />
<rect x="8" y="82" width="1" height="1" fill="#ffffff" />
<rect x="16" y="82" width="1" height="1" fill="#ffffff" />
<rect x="28" y="130" width="1" height="14" fill="#ffffff" />
<rect x="27" y="131" width="1" height="1" fill="#ffffff" />
<rect x="29" y="131" width="1" height="1" fill="#ffffff" />
<rect x="26" y="132" width="1" height="1" fill="#ffffff" />
<rect x="30" y="132" width="1" height="1" fill="#ffffff" />
<rect x="25" y="133" width="1" height="1" fill="#ffffff" />
<rect x="31" y="133" width="1" height="1" fill="#ffffff" />
<rect x="24" y="134" width="1" height="1" fill="#ffffff" />
<rect x="32" y="134" width="1" height="1" fill="#ffffff" />
<rect x="222" y="54" width="1" height="14" fill="#ffffff" />
<rect x="221" y="66" width="1" height="1" fill="#ffffff" />
<rect x="223" y="66" width="1" height="1" fill="#ffffff" />
<rect x="220" y="65" width="1" height="1" fill="#ffffff" />
<rect x="224" y="65" width="1" height="1" fill="#ffffff" />
<rect x="219" y="64" width="1" height="1" fill="#ffffff" />
<rect x="225" y="64" width="1" height="1" fill="#ffffff" />
<rect x="218" y="63" width="1" height="1" fill="#ffffff" />
<rect x="226" y="63" width="1" height="1" fill="#ffffff" />
<rect x="238" y="102" width="1" height="14" fill="#ffffff" />
<rect x="237" y="114" width="1" height="1" fill="#ffffff" />
<rect x="239" y="114" width="1" height="1" fill="#ffffff" />
<rect x="236" y="113" width="1" height="1" fill="#ffffff" />
<rect x="240" y="113" width="1" height="1" fill="#ffffff" />
<rect x="235" y="112" width="1" height="1" fill="#ffffff" />
<rect x="241" y="112" width="1" height="1" fill="#ffffff" />
<rect x="234" y="111" width="1" height="1" fill="#ffffff" />
<rect x="242" y="111" width="1" height="1" fill="#ffffff" />
<rect x="327" y="96" width="1" height="14" fill="#ffffff" />
<rect x="326" y="108" width="1" height="1" fill="#ffffff" />
<rect x="328" y="108" width="1" height="1" fill="#ffffff" />
<rect x="325" y="107" width="1" height="1" fill="#ffffff" />
<rect x="329" y="107" width="1" height="1" fill="#ffffff" />
<rect x="324" y="106" width="1" height="1" fill="#ffffff" />
<rect x="330" y="106" width="1" height="1" fill="#ffffff" />
<rect x="323" y="105" width="1" height="1" fill="#ffffff" />
<rect x="331" y="105" width="1" height="1" fill="#ffffff" />
<rect x="311" y="116" width="1" height="14" fill="#ffffff" />
<rect x="310" y="117" width="1" height="1" fill="#ffffff" />
<rect x="312" y="117" width="1" height="1" fill="#ffffff" />
<rect x="309" y="118" width="1" height="1" fill="#ffffff" />
<rect x="313" y="118" width="1" height="1" fill="#ffffff" />
<rect x="308" y="119" width="1" height="1" fill="#ffffff" />
<rect x="314" y="119" width="1" height="1" fill="#ffffff" />
<rect x="307" y="120" width="1" height="1" fill="#ffffff" />
<rect x="315" y="120" width="1" height="1" fill="#ffffff" />
<rect x="642" y="264" width="1" height="14" fill="#ffffff" />
<rect x="641" y="265" width="1" height="1" fill="#ffffff" />
<rect x="643" y="265" width="1" height="1" fill="#ffffff" />
<rect x="640" y="266" width="1" height="1" fill="#ffffff" />
<rect x="644" y="266" width="1" height="1" fill="#ffffff" />
<rect x="639" y="267" width="1" height="1" fill="#ffffff" />
<rect x="645" y="267" width="1" height="1" fill="#ffffff" />
<rect x="638" y="268" width="1" height="1" fill="#ffffff" />
<rect x="646" y="268" width="1" height="1" fill="#ffffff" />
<rect x="739" y="180" width="1" height="14" fill="#ffffff" />
<rect x="738" y="181" width="1" height="1" fill="#ffffff" />
<rect x="740" y="181" width="1" height="1" fill="#ffffff" />
<rect x="737" y="182" width="1" height="1" fill="#ffffff" />
<rect x="741" y="182" width="1" height="1" fill="#ffffff" />
<rect x="736" y="183" width="1" height="1" fill="#ffffff" />
<rect x="742" y="183" width="1" height="1" fill="#ffffff" />
<rect x="735" y="184" width="1" height="1" fill="#ffffff" />
<rect x="743" y="184" width="1" height="1" fill="#ffffff" />
<rect x="803" y="190" width="1" height="14" fill="#ffffff" />
<rect x="802" y="202" width="1" height="1" fill="#ffffff" />
<rect x="804" y="202" width="1" height="1" fill="#ffffff" />
<rect x="801" y="201" width="1" height="1" fill="#ffffff" />
<rect x="805" y="201" width="1" height="1" fill="#ffffff" />
<rect x="800" y="200" width="1" height="1" fill="#ffffff" />
<rect x="806" y="200" width="1" height="1" fill="#ffffff" />
<rect x="799" y="199" width="1" height="1" fill="#ffffff" />
<rect x="807" y="199" width="1" height="1" fill="#ffffff" />
<polyline points="182,47.5 184,47.5 197,52.5" fill="none" stroke="#ffffff" stroke-width="1"/>
<line x1="593" y1="392.5" x2="608" y2="392.5" stroke="#ffffff" stroke-width="1" />
<rect x="0" y="2" width="928" height="2" fill="#2b2f36" />
<rect x="0" y="0" width="1" height="722" fill="#2b2f36" />
<rect x="927" y="0" width="1" height="2" fill="#2b2f36" />
<rect x="0" y="23" width="928" height="1" fill="#2b2f36" />
<rect x="873" y="3" width="1" height="549" fill="#2b2f36" />
<rect x="0" y="420" width="928" height="1" fill="#2b2f36" />
<rect x="0" y="552" width="874" height="3" fill="#2b2f36" />
<rect x="874" y="552" width="54" height="1" fill="#2b2f36" />
<rect x="0" y="552" width="3" height="134" fill="#2b2f36" />
<rect x="871" y="552" width="3" height="134" fill="#2b2f36" />
<rect x="0" y="683" width="874" height="3" fill="#2b2f36" />
<rect x="874" y="685" width="54" height="1" fill="#2b2f36" />
<rect x="0" y="705" width="928" height="1" fill="#2b2f36" />
<rect x="927" y="705" width="1" height="10" fill="#2b2f36" />
<rect x="873" y="25" width="55" height="18" fill="#2f8ff0" />
<rect x="874" y="26" width="53" height="16" fill="#1872d0" />
<rect x="131" y="688" width="84" height="17" fill="#2f8ff0" />
<rect x="132" y="689" width="82" height="15" fill="#1872d0" />
</svg>
<div class="t" style="left:4px;top:6px;color:#fff;font-size:12px;font-family:'Liberation Sans','Noto Sans CJK SC',sans-serif;letter-spacing:0.25px">wti原油 (240分钟)</div>
<div class="t" style="left:5px;top:26px;color:#fff;font-size:12px;font-family:'Liberation Sans','Noto Sans CJK SC',sans-serif;">集金策略 <span style="letter-spacing:-0.9px">JJCL</span></div>
<div class="b" style="left:658px;top:6px;width:47px;height:16px;font-size:12px;line-height:16px;font-family:'Noto Sans CJK SC','Liberation Sans',sans-serif">改参数</div>
<div class="b" style="left:708px;top:6px;width:68px;height:16px;font-size:12px;line-height:16px;font-family:'Noto Sans CJK SC','Liberation Sans',sans-serif">隐藏主指标</div>
<div class="b" style="left:779px;top:6px;width:23px;height:16px;font-size:12px;line-height:16px;font-family:'Noto Sans CJK SC','Liberation Sans',sans-serif"><span class="arr">&#x2B05;</span></div>
<div class="b" style="left:805px;top:6px;width:23px;height:16px;font-size:12px;line-height:16px;font-family:'Noto Sans CJK SC','Liberation Sans',sans-serif"><span class="arr">&#x27A1;</span></div>
<div class="b" style="left:831px;top:6px;width:37px;height:16px;font-size:12px;line-height:16px;font-family:'Noto Sans CJK SC','Liberation Sans',sans-serif">说明</div>
<div class="t" style="left:885px;top:27px;color:#fff;font-size:13px;font-family:'DejaVu Sans Condensed','DejaVu Sans',sans-serif;">42.31</div>
<div class="t" style="left:874px;top:71px;color:#a8bade;font-size:12px;font-family:'DejaVu Sans Condensed','DejaVu Sans',sans-serif;">41.00</div>
<div class="t" style="left:874px;top:113px;color:#a8bade;font-size:12px;font-family:'DejaVu Sans Condensed','DejaVu Sans',sans-serif;">40.00</div>
<div class="t" style="left:874px;top:154px;color:#a8bade;font-size:12px;font-family:'DejaVu Sans Condensed','DejaVu Sans',sans-serif;">39.00</div>
<div class="t" style="left:874px;top:196px;color:#a8bade;font-size:12px;font-family:'DejaVu Sans Condensed','DejaVu Sans',sans-serif;">38.00</div>
<div class="t" style="left:874px;top:238px;color:#a8bade;font-size:12px;font-family:'DejaVu Sans Condensed','DejaVu Sans',sans-serif;">37.00</div>
<div class="t" style="left:874px;top:280px;color:#a8bade;font-size:12px;font-family:'DejaVu Sans Condensed','DejaVu Sans',sans-serif;">36.00</div>
<div class="t" style="left:874px;top:321px;color:#a8bade;font-size:12px;font-family:'DejaVu Sans Condensed','DejaVu Sans',sans-serif;">35.00</div>
<div class="t" style="left:874px;top:363px;color:#a8bade;font-size:12px;font-family:'DejaVu Sans Condensed','DejaVu Sans',sans-serif;">34.00</div>
<div class="t" style="left:7px;top:56px;color:#00ff00;font-size:12px;font-family:'Noto Sans CJK SC','Liberation Sans',sans-serif;">平多</div>
<div class="t" style="left:23px;top:145px;color:#ff0000;font-size:12px;font-family:'Noto Sans CJK SC','Liberation Sans',sans-serif;">多</div>
<div class="t" style="left:197px;top:53px;color:#f0f0f0;font-size:12px;font-family:'DejaVu Sans Condensed','DejaVu Sans',sans-serif;">41.90</div>
<div class="t" style="left:217px;top:37px;color:#00ff00;font-size:12px;font-family:'Noto Sans CJK SC','Liberation Sans',sans-serif;">平多</div>
<div class="t" style="left:233px;top:86px;color:#00ff00;font-size:12px;font-family:'Noto Sans CJK SC','Liberation Sans',sans-serif;">空</div>
<div class="t" style="left:322px;top:79px;color:#00ff00;font-size:12px;font-family:'Noto Sans CJK SC','Liberation Sans',sans-serif;">空</div>
<div class="t" style="left:297px;top:131px;color:#ff0000;font-size:12px;font-family:'Noto Sans CJK SC','Liberation Sans',sans-serif;">平空</div>
<div class="t" style="left:626px;top:279px;color:#ff0000;font-size:12px;font-family:'Noto Sans CJK SC','Liberation Sans',sans-serif;">平空</div>
<div class="t" style="left:607px;top:376px;color:#f0f0f0;font-size:12px;font-family:'DejaVu Sans Condensed','DejaVu Sans',sans-serif;">33.64</div>
<div class="t" style="left:734px;top:195px;color:#ff0000;font-size:12px;font-family:'Noto Sans CJK SC','Liberation Sans',sans-serif;">多</div>
<div class="t" style="left:798px;top:173px;color:#00ff00;font-size:12px;font-family:'Noto Sans CJK SC','Liberation Sans',sans-serif;">平多</div>
<div class="t" style="left:5px;top:422px;color:#fff;font-size:12px;font-family:'Liberation Sans','Noto Sans CJK SC',sans-serif;">平滑异同平均线 MACD(12,26,9)</div>
<div class="t" style="left:185px;top:422px;color:#fff;font-size:12px;font-family:'Liberation Sans','Noto Sans CJK SC',sans-serif;">DIFF:0.17<svg class="ar" width="6" height="12" viewBox="0 0 6 12"><rect x="2" y="0" width="2" height="9" fill="#fff"/><polygon points="0,7 6,7 3,11" fill="#fff"/></svg></div>
<div class="t" style="left:247px;top:422px;color:#ff00ff;font-size:12px;font-family:'Liberation Sans','Noto Sans CJK SC',sans-serif;">DEA:0.20<svg class="ar" width="6" height="12" viewBox="0 0 6 12"><rect x="2" y="0" width="2" height="9" fill="#ff00ff"/><polygon points="0,7 6,7 3,11" fill="#ff00ff"/></svg></div>
<div class="t" style="left:309px;top:422px;color:#00e000;font-size:12px;font-family:'Liberation Sans','Noto Sans CJK SC',sans-serif;">MACD:-0.06<svg class="ar" width="6" height="12" viewBox="0 0 6 12"><rect x="2" y="0" width="2" height="9" fill="#00e000"/><polygon points="0,7 6,7 3,11" fill="#00e000"/></svg></div>
<div class="b" style="left:757px;top:423px;width:48px;height:16px;font-size:12px;line-height:16px;font-family:'Noto Sans CJK SC','Liberation Sans',sans-serif">改参数</div>
<div class="b" style="left:808px;top:423px;width:37px;height:16px;font-size:12px;line-height:16px;font-family:'Noto Sans CJK SC','Liberation Sans',sans-serif">说明</div>
<div class="b" style="left:848px;top:423px;width:20px;height:16px;font-size:12px;line-height:16px;font-family:'Liberation Sans','Noto Sans CJK SC',sans-serif">X</div>
<div class="t" style="left:874px;top:442px;color:#a8bade;font-size:12px;font-family:'DejaVu Sans Condensed','DejaVu Sans',sans-serif;">0.60</div>
<div class="t" style="left:874px;top:482px;color:#a8bade;font-size:12px;font-family:'DejaVu Sans Condensed','DejaVu Sans',sans-serif;">-0.11</div>
<div class="t" style="left:874px;top:522px;color:#a8bade;font-size:12px;font-family:'DejaVu Sans Condensed','DejaVu Sans',sans-serif;">-0.82</div>
<div class="t" style="left:5px;top:554px;color:#fff;font-size:12px;font-family:'Liberation Sans','Noto Sans CJK SC',sans-serif;">乖离率 BIAS(6,12,24)</div>
<div class="t" style="left:127px;top:554px;color:#fff;font-size:12px;font-family:'Liberation Sans','Noto Sans CJK SC',sans-serif;">BIAS6:-0.27<svg class="ar" width="6" height="12" viewBox="0 0 6 12"><rect x="2" y="3" width="2" height="9" fill="#fff"/><polygon points="0,5 6,5 3,1" fill="#fff"/></svg></div>
<div class="t" style="left:203px;top:554px;color:#ff00ff;font-size:12px;font-family:'Liberation Sans','Noto Sans CJK SC',sans-serif;">BIAS12:-0.31<svg class="ar" width="6" height="12" viewBox="0 0 6 12"><rect x="2" y="3" width="2" height="9" fill="#ff00ff"/><polygon points="0,5 6,5 3,1" fill="#ff00ff"/></svg></div>
<div class="t" style="left:288px;top:554px;color:#00e000;font-size:12px;font-family:'Liberation Sans','Noto Sans CJK SC',sans-serif;">BIAS24:0.15<svg class="ar" width="6" height="12" viewBox="0 0 6 12"><rect x="2" y="3" width="2" height="9" fill="#00e000"/><polygon points="0,5 6,5 3,1" fill="#00e000"/></svg></div>
<div class="b" style="left:757px;top:555px;width:48px;height:16px;font-size:12px;line-height:16px;font-family:'Noto Sans CJK SC','Liberation Sans',sans-serif">改参数</div>
<div class="b" style="left:808px;top:555px;width:37px;height:16px;font-size:12px;line-height:16px;font-family:'Noto Sans CJK SC','Liberation Sans',sans-serif">说明</div>
<div class="b" style="left:848px;top:555px;width:20px;height:16px;font-size:12px;line-height:16px;font-family:'Liberation Sans','Noto Sans CJK SC',sans-serif">X</div>
<div class="t" style="left:874px;top:574px;color:#a8bade;font-size:12px;font-family:'DejaVu Sans Condensed','DejaVu Sans',sans-serif;">4.25</div>
<div class="t" style="left:874px;top:614px;color:#a8bade;font-size:12px;font-family:'DejaVu Sans Condensed','DejaVu Sans',sans-serif;">-1.02</div>
<div class="t" style="left:874px;top:653px;color:#a8bade;font-size:12px;font-family:'DejaVu Sans Condensed','DejaVu Sans',sans-serif;">-6.29</div>
<div class="t" style="left:4px;top:687px;color:#a8bade;font-size:12px;font-family:'DejaVu Sans Condensed','DejaVu Sans',sans-serif;">1015</div>
<div class="t" style="left:139px;top:690px;color:#fff;font-size:12.5px;font-family:'DejaVu Sans Condensed','DejaVu Sans',sans-serif;">10-20 04:00</div>
<div class="t" style="left:231px;top:687px;color:#a8bade;font-size:12px;font-family:'DejaVu Sans Condensed','DejaVu Sans',sans-serif;">22</div>
<div class="t" style="left:481px;top:687px;color:#a8bade;font-size:12px;font-family:'DejaVu Sans Condensed','DejaVu Sans',sans-serif;">29</div>
<div class="t" style="left:593px;top:687px;color:#a8bade;font-size:12px;font-family:'DejaVu Sans Condensed','DejaVu Sans',sans-serif;">02</div>
<div class="tab" style="left:1px;width:35px;font-family:'Noto Sans CJK SC','Liberation Sans',sans-serif;">管理</div>
<div class="tab tm" style="left:39px;width:23px;font-family:'Liberation Mono','Noto Sans CJK SC',monospace;">MA</div>
<div class="tab tm" style="left:65px;width:35px;font-family:'Liberation Mono','Noto Sans CJK SC',monospace;">BOLL</div>
<div class="tab tm" style="left:103px;width:29px;font-family:'Liberation Mono','Noto Sans CJK SC',monospace;">SAR</div>
<div class="tab" style="left:135px;width:58px;font-family:'Noto Sans CJK SC','Liberation Sans',sans-serif;background:#1a78d6;color:#fff;">集金策略</div>
<div class="tab" style="left:197px;width:58px;font-family:'Noto Sans CJK SC','Liberation Sans',sans-serif;">海龟策略</div>
<div class="tab tm" style="left:259px;width:27px;font-family:'Liberation Mono','Noto Sans CJK SC',monospace;">VOL</div>
<div class="tab tm" style="left:290px;width:35px;font-family:'Liberation Mono','Noto Sans CJK SC',monospace;">MACD</div>
<div class="tab tm" style="left:329px;width:29px;font-family:'Liberation Mono','Noto Sans CJK SC',monospace;">KDJ</div>
<div class="tab tm" style="left:362px;width:27px;font-family:'Liberation Mono','Noto Sans CJK SC',monospace;">RSI</div>
<div class="tab tm" style="left:393px;width:35px;font-family:'Liberation Mono','Noto Sans CJK SC',monospace;background:#1a78d6;color:#ffe000;">BIAS</div>
<div class="tab tm" style="left:431px;width:27px;font-family:'Liberation Mono','Noto Sans CJK SC',monospace;">W&amp;R</div>
<div class="tab tm" style="left:462px;width:28px;font-family:'Liberation Mono','Noto Sans CJK SC',monospace;">OBV</div>
<div class="tab tm" style="left:494px;width:28px;font-family:'Liberation Mono','Noto Sans CJK SC',monospace;">DMI</div>
<div class="tab tm" style="left:527px;width:27px;font-family:'Liberation Mono','Noto Sans CJK SC',monospace;">CCI</div>
<div class="tab tm" style="left:558px;width:24px;font-family:'Liberation Mono','Noto Sans CJK SC',monospace;">CR</div>
<div class="tab tm" style="left:585px;width:29px;font-family:'Liberation Mono','Noto Sans CJK SC',monospace;">ATR</div>
</div></body></html>
